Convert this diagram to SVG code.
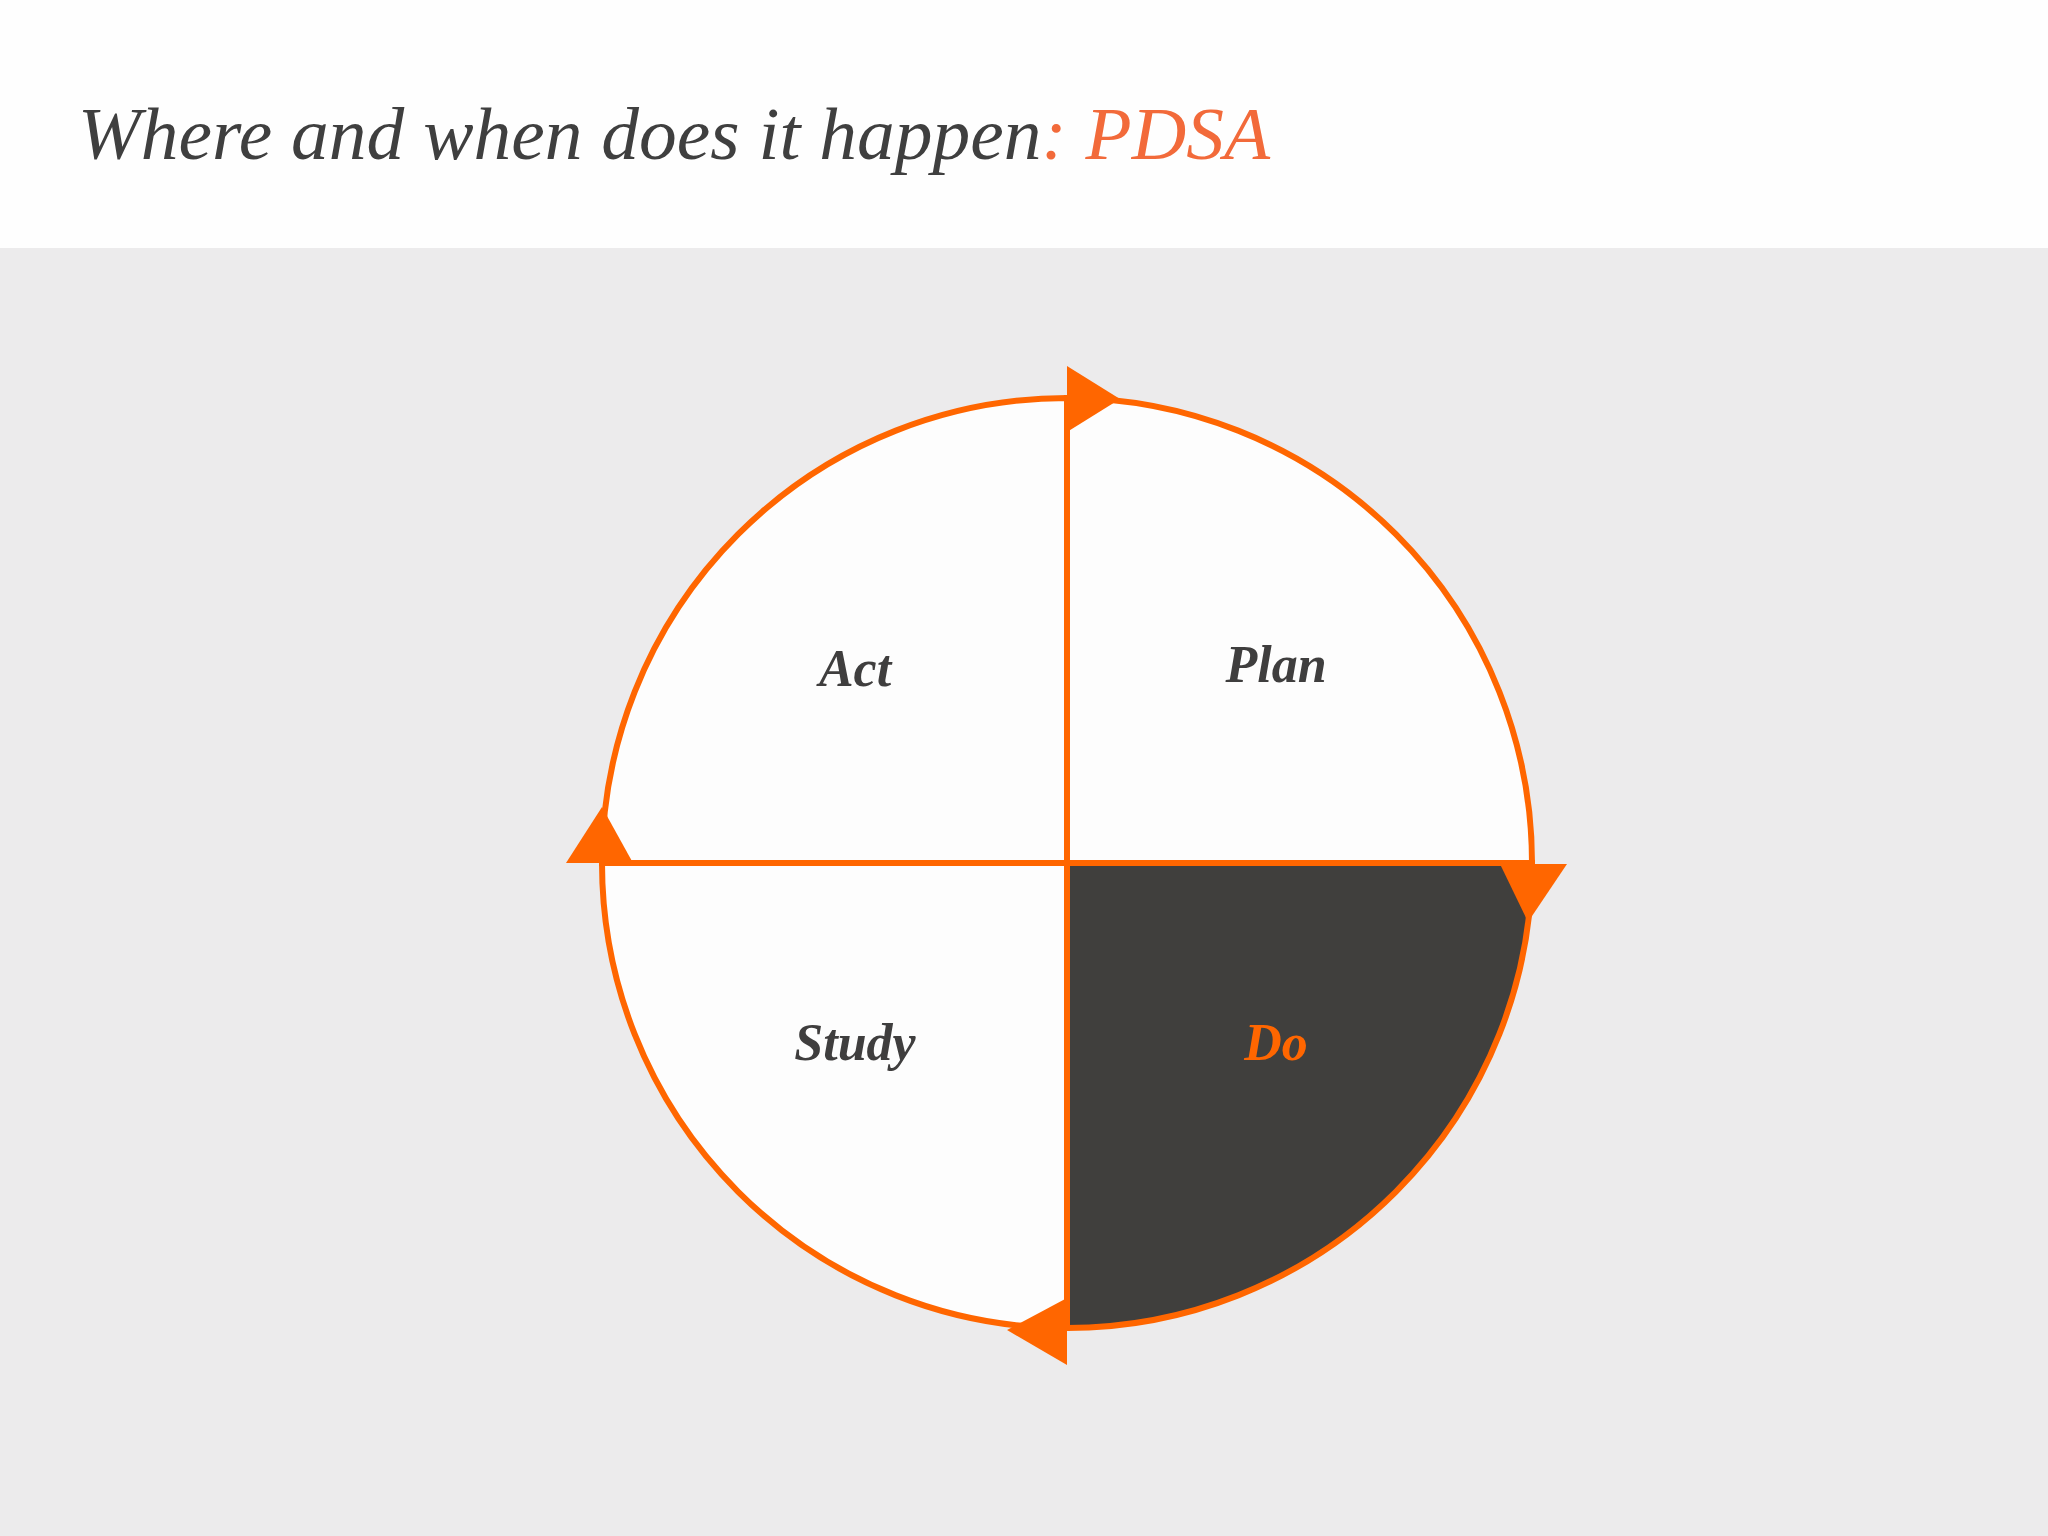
<svg xmlns="http://www.w3.org/2000/svg" width="2048" height="1536" viewBox="0 0 2048 1536">
<style>
.q{stroke:#FF6600;stroke-width:6;stroke-linejoin:miter}
.light{fill:#FDFDFD}
.dark{fill:#403F3D}
.lbl{font-family:"Liberation Serif","DejaVu Serif",serif;font-style:italic;font-weight:bold;font-size:52px;text-anchor:middle;fill:#3F3E3E}
.arrow{fill:#FF6600}
</style>
<rect x="0" y="0" width="2048" height="1536" fill="#ECEBEC"/>
<rect x="0" y="0" width="2048" height="248" fill="#FEFEFE"/>
<text x="78" y="159" font-family="Liberation Serif, serif" font-style="italic" font-size="74" fill="#3F3F3F" textLength="1192" lengthAdjust="spacingAndGlyphs">Where and when does it happen<tspan fill="#F26A3A">: PDSA</tspan></text>
<g id="act"><path class="q light" d="M1067,863 L1067,398 A465,465 0 0 0 602,863 Z"/><text class="lbl" x="855" y="686">Act</text></g>
<g id="plan"><path class="q light" d="M1067,863 L1067,398 A465,465 0 0 1 1532,863 Z"/><text class="lbl" x="1276" y="682">Plan</text></g>
<g id="do"><path class="q dark" d="M1067,863 L1532,863 A465,465 0 0 1 1067,1328 Z"/><text class="lbl" x="1276" y="1060" style="fill:#FF6600">Do</text></g>
<g id="study"><path class="q light" d="M1067,863 L1067,1328 A465,465 0 0 1 602,863 Z"/><text class="lbl" x="855" y="1060">Study</text></g>
<g id="connectors">
<polygon class="arrow" points="1067,366 1067,432 1120,399"/>
<polygon class="arrow" points="1500,864 1567,864 1528,922"/>
<polygon class="arrow" points="1067,1298 1067,1365 1007,1330"/>
<polygon class="arrow" points="566,863 633,863 602,807"/>
</g>
</svg>
